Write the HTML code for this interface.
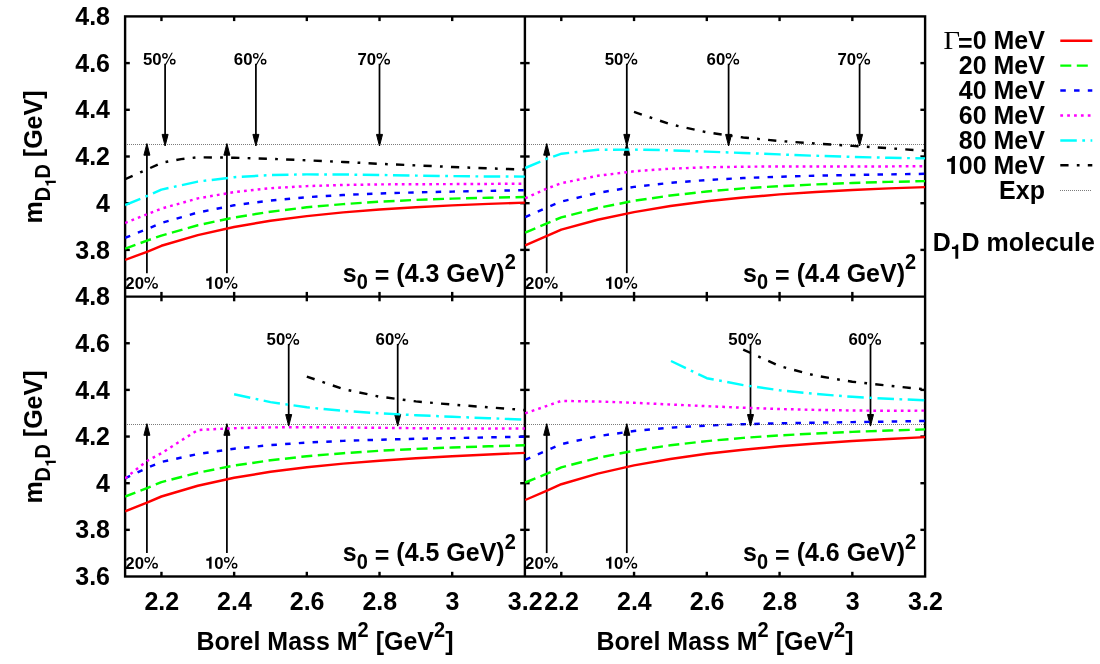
<!DOCTYPE html>
<html><head><meta charset="utf-8"><title>D1D molecule Borel mass plots</title>
<style>html,body{margin:0;padding:0;background:#fff;}svg{display:block;will-change:transform;}text{font-family:"Liberation Sans",sans-serif;font-weight:bold;fill:#000;}.sym{font-family:"Liberation Serif",serif;font-weight:normal;}</style></head><body>
<svg width="1100" height="664" viewBox="0 0 1100 664">
<rect x="0" y="0" width="1100" height="664" fill="#ffffff"/>
<line x1="146.9" y1="273.2" x2="146.9" y2="152.9" stroke="#000" stroke-width="1.75"/>
<polygon points="146.9,143.6 143.9,155.2 149.9,155.2" fill="#000" stroke="#000" stroke-width="1" stroke-linejoin="miter"/>
<line x1="226.9" y1="273.2" x2="226.9" y2="152.9" stroke="#000" stroke-width="1.75"/>
<polygon points="226.9,143.6 223.9,155.2 229.9,155.2" fill="#000" stroke="#000" stroke-width="1" stroke-linejoin="miter"/>
<text transform="translate(125.30 288.90) scale(1 1.03)" font-size="16.8" text-anchor="start">20</text>
<path transform="translate(143.99 288.90) scale(16.8 -16.8)" d="M0.024 0.534A0.17 0.17 0 1 0 0.364 0.534A0.17 0.17 0 1 0 0.024 0.534ZM0.106 0.534A0.088 0.088 0 1 1 0.282 0.534A0.088 0.088 0 1 1 0.106 0.534ZM0.490 0.184A0.17 0.17 0 1 0 0.830 0.184A0.17 0.17 0 1 0 0.490 0.184ZM0.572 0.184A0.088 0.088 0 1 1 0.748 0.184A0.088 0.088 0 1 1 0.572 0.184ZM0.5875 0.72L0.6625 0.72L0.2565 -0.015L0.1815 -0.015Z" fill="#000" fill-rule="evenodd"/>
<path transform="translate(204.80 288.90) scale(16.8 -16.8)" d="M0.259 0L0.404 0L0.404 0.716L0.308 0.716C0.290 0.640 0.230 0.602 0.090 0.600L0.090 0.484L0.259 0.484Z" fill="#000"/>
<text transform="translate(214.14 288.90) scale(1 1.03)" font-size="16.8" text-anchor="start">0</text>
<path transform="translate(223.49 288.90) scale(16.8 -16.8)" d="M0.024 0.534A0.17 0.17 0 1 0 0.364 0.534A0.17 0.17 0 1 0 0.024 0.534ZM0.106 0.534A0.088 0.088 0 1 1 0.282 0.534A0.088 0.088 0 1 1 0.106 0.534ZM0.490 0.184A0.17 0.17 0 1 0 0.830 0.184A0.17 0.17 0 1 0 0.490 0.184ZM0.572 0.184A0.088 0.088 0 1 1 0.748 0.184A0.088 0.088 0 1 1 0.572 0.184ZM0.5875 0.72L0.6625 0.72L0.2565 -0.015L0.1815 -0.015Z" fill="#000" fill-rule="evenodd"/>
<line x1="546.7" y1="273.2" x2="546.7" y2="152.9" stroke="#000" stroke-width="1.75"/>
<polygon points="546.7,143.6 543.7,155.2 549.7,155.2" fill="#000" stroke="#000" stroke-width="1" stroke-linejoin="miter"/>
<line x1="626.8" y1="273.2" x2="626.8" y2="152.9" stroke="#000" stroke-width="1.75"/>
<polygon points="626.8,143.6 623.8,155.2 629.8,155.2" fill="#000" stroke="#000" stroke-width="1" stroke-linejoin="miter"/>
<text transform="translate(525.10 288.90) scale(1 1.03)" font-size="16.8" text-anchor="start">20</text>
<path transform="translate(543.79 288.90) scale(16.8 -16.8)" d="M0.024 0.534A0.17 0.17 0 1 0 0.364 0.534A0.17 0.17 0 1 0 0.024 0.534ZM0.106 0.534A0.088 0.088 0 1 1 0.282 0.534A0.088 0.088 0 1 1 0.106 0.534ZM0.490 0.184A0.17 0.17 0 1 0 0.830 0.184A0.17 0.17 0 1 0 0.490 0.184ZM0.572 0.184A0.088 0.088 0 1 1 0.748 0.184A0.088 0.088 0 1 1 0.572 0.184ZM0.5875 0.72L0.6625 0.72L0.2565 -0.015L0.1815 -0.015Z" fill="#000" fill-rule="evenodd"/>
<path transform="translate(604.60 288.90) scale(16.8 -16.8)" d="M0.259 0L0.404 0L0.404 0.716L0.308 0.716C0.290 0.640 0.230 0.602 0.090 0.600L0.090 0.484L0.259 0.484Z" fill="#000"/>
<text transform="translate(613.94 288.90) scale(1 1.03)" font-size="16.8" text-anchor="start">0</text>
<path transform="translate(623.29 288.90) scale(16.8 -16.8)" d="M0.024 0.534A0.17 0.17 0 1 0 0.364 0.534A0.17 0.17 0 1 0 0.024 0.534ZM0.106 0.534A0.088 0.088 0 1 1 0.282 0.534A0.088 0.088 0 1 1 0.106 0.534ZM0.490 0.184A0.17 0.17 0 1 0 0.830 0.184A0.17 0.17 0 1 0 0.490 0.184ZM0.572 0.184A0.088 0.088 0 1 1 0.748 0.184A0.088 0.088 0 1 1 0.572 0.184ZM0.5875 0.72L0.6625 0.72L0.2565 -0.015L0.1815 -0.015Z" fill="#000" fill-rule="evenodd"/>
<line x1="146.9" y1="553.1" x2="146.9" y2="433.0" stroke="#000" stroke-width="1.75"/>
<polygon points="146.9,423.7 143.9,435.3 149.9,435.3" fill="#000" stroke="#000" stroke-width="1" stroke-linejoin="miter"/>
<line x1="226.9" y1="553.1" x2="226.9" y2="433.0" stroke="#000" stroke-width="1.75"/>
<polygon points="226.9,423.7 223.9,435.3 229.9,435.3" fill="#000" stroke="#000" stroke-width="1" stroke-linejoin="miter"/>
<text transform="translate(125.30 568.80) scale(1 1.03)" font-size="16.8" text-anchor="start">20</text>
<path transform="translate(143.99 568.80) scale(16.8 -16.8)" d="M0.024 0.534A0.17 0.17 0 1 0 0.364 0.534A0.17 0.17 0 1 0 0.024 0.534ZM0.106 0.534A0.088 0.088 0 1 1 0.282 0.534A0.088 0.088 0 1 1 0.106 0.534ZM0.490 0.184A0.17 0.17 0 1 0 0.830 0.184A0.17 0.17 0 1 0 0.490 0.184ZM0.572 0.184A0.088 0.088 0 1 1 0.748 0.184A0.088 0.088 0 1 1 0.572 0.184ZM0.5875 0.72L0.6625 0.72L0.2565 -0.015L0.1815 -0.015Z" fill="#000" fill-rule="evenodd"/>
<path transform="translate(204.80 568.80) scale(16.8 -16.8)" d="M0.259 0L0.404 0L0.404 0.716L0.308 0.716C0.290 0.640 0.230 0.602 0.090 0.600L0.090 0.484L0.259 0.484Z" fill="#000"/>
<text transform="translate(214.14 568.80) scale(1 1.03)" font-size="16.8" text-anchor="start">0</text>
<path transform="translate(223.49 568.80) scale(16.8 -16.8)" d="M0.024 0.534A0.17 0.17 0 1 0 0.364 0.534A0.17 0.17 0 1 0 0.024 0.534ZM0.106 0.534A0.088 0.088 0 1 1 0.282 0.534A0.088 0.088 0 1 1 0.106 0.534ZM0.490 0.184A0.17 0.17 0 1 0 0.830 0.184A0.17 0.17 0 1 0 0.490 0.184ZM0.572 0.184A0.088 0.088 0 1 1 0.748 0.184A0.088 0.088 0 1 1 0.572 0.184ZM0.5875 0.72L0.6625 0.72L0.2565 -0.015L0.1815 -0.015Z" fill="#000" fill-rule="evenodd"/>
<line x1="546.7" y1="553.1" x2="546.7" y2="433.0" stroke="#000" stroke-width="1.75"/>
<polygon points="546.7,423.7 543.7,435.3 549.7,435.3" fill="#000" stroke="#000" stroke-width="1" stroke-linejoin="miter"/>
<line x1="626.8" y1="553.1" x2="626.8" y2="433.0" stroke="#000" stroke-width="1.75"/>
<polygon points="626.8,423.7 623.8,435.3 629.8,435.3" fill="#000" stroke="#000" stroke-width="1" stroke-linejoin="miter"/>
<text transform="translate(525.10 568.80) scale(1 1.03)" font-size="16.8" text-anchor="start">20</text>
<path transform="translate(543.79 568.80) scale(16.8 -16.8)" d="M0.024 0.534A0.17 0.17 0 1 0 0.364 0.534A0.17 0.17 0 1 0 0.024 0.534ZM0.106 0.534A0.088 0.088 0 1 1 0.282 0.534A0.088 0.088 0 1 1 0.106 0.534ZM0.490 0.184A0.17 0.17 0 1 0 0.830 0.184A0.17 0.17 0 1 0 0.490 0.184ZM0.572 0.184A0.088 0.088 0 1 1 0.748 0.184A0.088 0.088 0 1 1 0.572 0.184ZM0.5875 0.72L0.6625 0.72L0.2565 -0.015L0.1815 -0.015Z" fill="#000" fill-rule="evenodd"/>
<path transform="translate(604.60 568.80) scale(16.8 -16.8)" d="M0.259 0L0.404 0L0.404 0.716L0.308 0.716C0.290 0.640 0.230 0.602 0.090 0.600L0.090 0.484L0.259 0.484Z" fill="#000"/>
<text transform="translate(613.94 568.80) scale(1 1.03)" font-size="16.8" text-anchor="start">0</text>
<path transform="translate(623.29 568.80) scale(16.8 -16.8)" d="M0.024 0.534A0.17 0.17 0 1 0 0.364 0.534A0.17 0.17 0 1 0 0.024 0.534ZM0.106 0.534A0.088 0.088 0 1 1 0.282 0.534A0.088 0.088 0 1 1 0.106 0.534ZM0.490 0.184A0.17 0.17 0 1 0 0.830 0.184A0.17 0.17 0 1 0 0.490 0.184ZM0.572 0.184A0.088 0.088 0 1 1 0.748 0.184A0.088 0.088 0 1 1 0.572 0.184ZM0.5875 0.72L0.6625 0.72L0.2565 -0.015L0.1815 -0.015Z" fill="#000" fill-rule="evenodd"/>
<line x1="165.1" y1="63.7" x2="165.1" y2="136.7" stroke="#000" stroke-width="1.75"/>
<polygon points="165.1,146.0 162.1,134.4 168.1,134.4" fill="#000" stroke="#000" stroke-width="1" stroke-linejoin="miter"/>
<text transform="translate(142.98 64.80) scale(1 1.03)" font-size="16.8" text-anchor="start">50</text>
<path transform="translate(161.67 64.80) scale(16.8 -16.8)" d="M0.024 0.534A0.17 0.17 0 1 0 0.364 0.534A0.17 0.17 0 1 0 0.024 0.534ZM0.106 0.534A0.088 0.088 0 1 1 0.282 0.534A0.088 0.088 0 1 1 0.106 0.534ZM0.490 0.184A0.17 0.17 0 1 0 0.830 0.184A0.17 0.17 0 1 0 0.490 0.184ZM0.572 0.184A0.088 0.088 0 1 1 0.748 0.184A0.088 0.088 0 1 1 0.572 0.184ZM0.5875 0.72L0.6625 0.72L0.2565 -0.015L0.1815 -0.015Z" fill="#000" fill-rule="evenodd"/>
<line x1="255.9" y1="63.7" x2="255.9" y2="136.7" stroke="#000" stroke-width="1.75"/>
<polygon points="255.9,146.0 252.9,134.4 258.9,134.4" fill="#000" stroke="#000" stroke-width="1" stroke-linejoin="miter"/>
<text transform="translate(233.84 64.80) scale(1 1.03)" font-size="16.8" text-anchor="start">60</text>
<path transform="translate(252.53 64.80) scale(16.8 -16.8)" d="M0.024 0.534A0.17 0.17 0 1 0 0.364 0.534A0.17 0.17 0 1 0 0.024 0.534ZM0.106 0.534A0.088 0.088 0 1 1 0.282 0.534A0.088 0.088 0 1 1 0.106 0.534ZM0.490 0.184A0.17 0.17 0 1 0 0.830 0.184A0.17 0.17 0 1 0 0.490 0.184ZM0.572 0.184A0.088 0.088 0 1 1 0.748 0.184A0.088 0.088 0 1 1 0.572 0.184ZM0.5875 0.72L0.6625 0.72L0.2565 -0.015L0.1815 -0.015Z" fill="#000" fill-rule="evenodd"/>
<line x1="379.5" y1="63.7" x2="379.5" y2="136.7" stroke="#000" stroke-width="1.75"/>
<polygon points="379.5,146.0 376.5,134.4 382.5,134.4" fill="#000" stroke="#000" stroke-width="1" stroke-linejoin="miter"/>
<text transform="translate(357.42 64.80) scale(1 1.03)" font-size="16.8" text-anchor="start">70</text>
<path transform="translate(376.11 64.80) scale(16.8 -16.8)" d="M0.024 0.534A0.17 0.17 0 1 0 0.364 0.534A0.17 0.17 0 1 0 0.024 0.534ZM0.106 0.534A0.088 0.088 0 1 1 0.282 0.534A0.088 0.088 0 1 1 0.106 0.534ZM0.490 0.184A0.17 0.17 0 1 0 0.830 0.184A0.17 0.17 0 1 0 0.490 0.184ZM0.572 0.184A0.088 0.088 0 1 1 0.748 0.184A0.088 0.088 0 1 1 0.572 0.184ZM0.5875 0.72L0.6625 0.72L0.2565 -0.015L0.1815 -0.015Z" fill="#000" fill-rule="evenodd"/>
<line x1="626.8" y1="63.7" x2="626.8" y2="136.7" stroke="#000" stroke-width="1.75"/>
<polygon points="626.8,146.0 623.8,134.4 629.8,134.4" fill="#000" stroke="#000" stroke-width="1" stroke-linejoin="miter"/>
<text transform="translate(604.67 64.80) scale(1 1.03)" font-size="16.8" text-anchor="start">50</text>
<path transform="translate(623.36 64.80) scale(16.8 -16.8)" d="M0.024 0.534A0.17 0.17 0 1 0 0.364 0.534A0.17 0.17 0 1 0 0.024 0.534ZM0.106 0.534A0.088 0.088 0 1 1 0.282 0.534A0.088 0.088 0 1 1 0.106 0.534ZM0.490 0.184A0.17 0.17 0 1 0 0.830 0.184A0.17 0.17 0 1 0 0.490 0.184ZM0.572 0.184A0.088 0.088 0 1 1 0.748 0.184A0.088 0.088 0 1 1 0.572 0.184ZM0.5875 0.72L0.6625 0.72L0.2565 -0.015L0.1815 -0.015Z" fill="#000" fill-rule="evenodd"/>
<line x1="728.6" y1="63.7" x2="728.6" y2="136.7" stroke="#000" stroke-width="1.75"/>
<polygon points="728.6,146.0 725.6,134.4 731.6,134.4" fill="#000" stroke="#000" stroke-width="1" stroke-linejoin="miter"/>
<text transform="translate(706.54 64.80) scale(1 1.03)" font-size="16.8" text-anchor="start">60</text>
<path transform="translate(725.23 64.80) scale(16.8 -16.8)" d="M0.024 0.534A0.17 0.17 0 1 0 0.364 0.534A0.17 0.17 0 1 0 0.024 0.534ZM0.106 0.534A0.088 0.088 0 1 1 0.282 0.534A0.088 0.088 0 1 1 0.106 0.534ZM0.490 0.184A0.17 0.17 0 1 0 0.830 0.184A0.17 0.17 0 1 0 0.490 0.184ZM0.572 0.184A0.088 0.088 0 1 1 0.748 0.184A0.088 0.088 0 1 1 0.572 0.184ZM0.5875 0.72L0.6625 0.72L0.2565 -0.015L0.1815 -0.015Z" fill="#000" fill-rule="evenodd"/>
<line x1="859.6" y1="63.7" x2="859.6" y2="136.7" stroke="#000" stroke-width="1.75"/>
<polygon points="859.6,146.0 856.6,134.4 862.6,134.4" fill="#000" stroke="#000" stroke-width="1" stroke-linejoin="miter"/>
<text transform="translate(837.51 64.80) scale(1 1.03)" font-size="16.8" text-anchor="start">70</text>
<path transform="translate(856.20 64.80) scale(16.8 -16.8)" d="M0.024 0.534A0.17 0.17 0 1 0 0.364 0.534A0.17 0.17 0 1 0 0.024 0.534ZM0.106 0.534A0.088 0.088 0 1 1 0.282 0.534A0.088 0.088 0 1 1 0.106 0.534ZM0.490 0.184A0.17 0.17 0 1 0 0.830 0.184A0.17 0.17 0 1 0 0.490 0.184ZM0.572 0.184A0.088 0.088 0 1 1 0.748 0.184A0.088 0.088 0 1 1 0.572 0.184ZM0.5875 0.72L0.6625 0.72L0.2565 -0.015L0.1815 -0.015Z" fill="#000" fill-rule="evenodd"/>
<line x1="288.7" y1="343.9" x2="288.7" y2="416.8" stroke="#000" stroke-width="1.75"/>
<polygon points="288.7,426.1 285.7,414.5 291.7,414.5" fill="#000" stroke="#000" stroke-width="1" stroke-linejoin="miter"/>
<text transform="translate(266.55 345.00) scale(1 1.03)" font-size="16.8" text-anchor="start">50</text>
<path transform="translate(285.24 345.00) scale(16.8 -16.8)" d="M0.024 0.534A0.17 0.17 0 1 0 0.364 0.534A0.17 0.17 0 1 0 0.024 0.534ZM0.106 0.534A0.088 0.088 0 1 1 0.282 0.534A0.088 0.088 0 1 1 0.106 0.534ZM0.490 0.184A0.17 0.17 0 1 0 0.830 0.184A0.17 0.17 0 1 0 0.490 0.184ZM0.572 0.184A0.088 0.088 0 1 1 0.748 0.184A0.088 0.088 0 1 1 0.572 0.184ZM0.5875 0.72L0.6625 0.72L0.2565 -0.015L0.1815 -0.015Z" fill="#000" fill-rule="evenodd"/>
<line x1="397.7" y1="343.9" x2="397.7" y2="416.8" stroke="#000" stroke-width="1.75"/>
<polygon points="397.7,426.1 394.7,414.5 400.7,414.5" fill="#000" stroke="#000" stroke-width="1" stroke-linejoin="miter"/>
<text transform="translate(375.59 345.00) scale(1 1.03)" font-size="16.8" text-anchor="start">60</text>
<path transform="translate(394.28 345.00) scale(16.8 -16.8)" d="M0.024 0.534A0.17 0.17 0 1 0 0.364 0.534A0.17 0.17 0 1 0 0.024 0.534ZM0.106 0.534A0.088 0.088 0 1 1 0.282 0.534A0.088 0.088 0 1 1 0.106 0.534ZM0.490 0.184A0.17 0.17 0 1 0 0.830 0.184A0.17 0.17 0 1 0 0.490 0.184ZM0.572 0.184A0.088 0.088 0 1 1 0.748 0.184A0.088 0.088 0 1 1 0.572 0.184ZM0.5875 0.72L0.6625 0.72L0.2565 -0.015L0.1815 -0.015Z" fill="#000" fill-rule="evenodd"/>
<line x1="750.5" y1="343.9" x2="750.5" y2="416.8" stroke="#000" stroke-width="1.75"/>
<polygon points="750.5,426.1 747.5,414.5 753.5,414.5" fill="#000" stroke="#000" stroke-width="1" stroke-linejoin="miter"/>
<text transform="translate(728.37 345.00) scale(1 1.03)" font-size="16.8" text-anchor="start">50</text>
<path transform="translate(747.06 345.00) scale(16.8 -16.8)" d="M0.024 0.534A0.17 0.17 0 1 0 0.364 0.534A0.17 0.17 0 1 0 0.024 0.534ZM0.106 0.534A0.088 0.088 0 1 1 0.282 0.534A0.088 0.088 0 1 1 0.106 0.534ZM0.490 0.184A0.17 0.17 0 1 0 0.830 0.184A0.17 0.17 0 1 0 0.490 0.184ZM0.572 0.184A0.088 0.088 0 1 1 0.748 0.184A0.088 0.088 0 1 1 0.572 0.184ZM0.5875 0.72L0.6625 0.72L0.2565 -0.015L0.1815 -0.015Z" fill="#000" fill-rule="evenodd"/>
<line x1="870.5" y1="343.9" x2="870.5" y2="416.8" stroke="#000" stroke-width="1.75"/>
<polygon points="870.5,426.1 867.5,414.5 873.5,414.5" fill="#000" stroke="#000" stroke-width="1" stroke-linejoin="miter"/>
<text transform="translate(848.43 345.00) scale(1 1.03)" font-size="16.8" text-anchor="start">60</text>
<path transform="translate(867.12 345.00) scale(16.8 -16.8)" d="M0.024 0.534A0.17 0.17 0 1 0 0.364 0.534A0.17 0.17 0 1 0 0.024 0.534ZM0.106 0.534A0.088 0.088 0 1 1 0.282 0.534A0.088 0.088 0 1 1 0.106 0.534ZM0.490 0.184A0.17 0.17 0 1 0 0.830 0.184A0.17 0.17 0 1 0 0.490 0.184ZM0.572 0.184A0.088 0.088 0 1 1 0.748 0.184A0.088 0.088 0 1 1 0.572 0.184ZM0.5875 0.72L0.6625 0.72L0.2565 -0.015L0.1815 -0.015Z" fill="#000" fill-rule="evenodd"/>
<g stroke="#000" stroke-width="2.4" fill="none" stroke-linecap="butt">
<rect x="125.1" y="16.4" width="800.00" height="560.10"/>
<line x1="524.9" y1="16.4" x2="524.9" y2="576.5"/>
<line x1="125.1" y1="296.6" x2="925.1" y2="296.6"/>
<line x1="161.45" y1="16.4" x2="161.45" y2="21.099999999999998"/>
<line x1="161.45" y1="291.90000000000003" x2="161.45" y2="301.3"/>
<line x1="161.45" y1="571.8" x2="161.45" y2="576.5"/>
<line x1="234.14" y1="16.4" x2="234.14" y2="21.099999999999998"/>
<line x1="234.14" y1="291.90000000000003" x2="234.14" y2="301.3"/>
<line x1="234.14" y1="571.8" x2="234.14" y2="576.5"/>
<line x1="306.83" y1="16.4" x2="306.83" y2="21.099999999999998"/>
<line x1="306.83" y1="291.90000000000003" x2="306.83" y2="301.3"/>
<line x1="306.83" y1="571.8" x2="306.83" y2="576.5"/>
<line x1="379.52" y1="16.4" x2="379.52" y2="21.099999999999998"/>
<line x1="379.52" y1="291.90000000000003" x2="379.52" y2="301.3"/>
<line x1="379.52" y1="571.8" x2="379.52" y2="576.5"/>
<line x1="452.21" y1="16.4" x2="452.21" y2="21.099999999999998"/>
<line x1="452.21" y1="291.90000000000003" x2="452.21" y2="301.3"/>
<line x1="452.21" y1="571.8" x2="452.21" y2="576.5"/>
<line x1="561.28" y1="16.4" x2="561.28" y2="21.099999999999998"/>
<line x1="561.28" y1="291.90000000000003" x2="561.28" y2="301.3"/>
<line x1="561.28" y1="571.8" x2="561.28" y2="576.5"/>
<line x1="634.05" y1="16.4" x2="634.05" y2="21.099999999999998"/>
<line x1="634.05" y1="291.90000000000003" x2="634.05" y2="301.3"/>
<line x1="634.05" y1="571.8" x2="634.05" y2="576.5"/>
<line x1="706.81" y1="16.4" x2="706.81" y2="21.099999999999998"/>
<line x1="706.81" y1="291.90000000000003" x2="706.81" y2="301.3"/>
<line x1="706.81" y1="571.8" x2="706.81" y2="576.5"/>
<line x1="779.57" y1="16.4" x2="779.57" y2="21.099999999999998"/>
<line x1="779.57" y1="291.90000000000003" x2="779.57" y2="301.3"/>
<line x1="779.57" y1="571.8" x2="779.57" y2="576.5"/>
<line x1="852.34" y1="16.4" x2="852.34" y2="21.099999999999998"/>
<line x1="852.34" y1="291.90000000000003" x2="852.34" y2="301.3"/>
<line x1="852.34" y1="571.8" x2="852.34" y2="576.5"/>
<line x1="125.1" y1="63.10" x2="129.79999999999998" y2="63.10"/>
<line x1="520.1999999999999" y1="63.10" x2="529.6" y2="63.10"/>
<line x1="920.4" y1="63.10" x2="925.1" y2="63.10"/>
<line x1="125.1" y1="109.80" x2="129.79999999999998" y2="109.80"/>
<line x1="520.1999999999999" y1="109.80" x2="529.6" y2="109.80"/>
<line x1="920.4" y1="109.80" x2="925.1" y2="109.80"/>
<line x1="125.1" y1="156.50" x2="129.79999999999998" y2="156.50"/>
<line x1="520.1999999999999" y1="156.50" x2="529.6" y2="156.50"/>
<line x1="920.4" y1="156.50" x2="925.1" y2="156.50"/>
<line x1="125.1" y1="203.20" x2="129.79999999999998" y2="203.20"/>
<line x1="520.1999999999999" y1="203.20" x2="529.6" y2="203.20"/>
<line x1="920.4" y1="203.20" x2="925.1" y2="203.20"/>
<line x1="125.1" y1="249.90" x2="129.79999999999998" y2="249.90"/>
<line x1="520.1999999999999" y1="249.90" x2="529.6" y2="249.90"/>
<line x1="920.4" y1="249.90" x2="925.1" y2="249.90"/>
<line x1="125.1" y1="343.25" x2="129.79999999999998" y2="343.25"/>
<line x1="520.1999999999999" y1="343.25" x2="529.6" y2="343.25"/>
<line x1="920.4" y1="343.25" x2="925.1" y2="343.25"/>
<line x1="125.1" y1="389.90" x2="129.79999999999998" y2="389.90"/>
<line x1="520.1999999999999" y1="389.90" x2="529.6" y2="389.90"/>
<line x1="920.4" y1="389.90" x2="925.1" y2="389.90"/>
<line x1="125.1" y1="436.55" x2="129.79999999999998" y2="436.55"/>
<line x1="520.1999999999999" y1="436.55" x2="529.6" y2="436.55"/>
<line x1="920.4" y1="436.55" x2="925.1" y2="436.55"/>
<line x1="125.1" y1="483.20" x2="129.79999999999998" y2="483.20"/>
<line x1="520.1999999999999" y1="483.20" x2="529.6" y2="483.20"/>
<line x1="920.4" y1="483.20" x2="925.1" y2="483.20"/>
<line x1="125.1" y1="529.85" x2="129.79999999999998" y2="529.85"/>
<line x1="520.1999999999999" y1="529.85" x2="529.6" y2="529.85"/>
<line x1="920.4" y1="529.85" x2="925.1" y2="529.85"/>
</g>
<text transform="translate(110.00 25.00) scale(1 1.065)" font-size="25.0" text-anchor="end">4.8</text>
<text transform="translate(110.00 71.70) scale(1 1.065)" font-size="25.0" text-anchor="end">4.6</text>
<text transform="translate(110.00 118.40) scale(1 1.065)" font-size="25.0" text-anchor="end">4.4</text>
<text transform="translate(110.00 165.10) scale(1 1.065)" font-size="25.0" text-anchor="end">4.2</text>
<text transform="translate(110.00 211.80) scale(1 1.065)" font-size="25.0" text-anchor="end">4</text>
<text transform="translate(110.00 258.50) scale(1 1.065)" font-size="25.0" text-anchor="end">3.8</text>
<text transform="translate(110.00 305.20) scale(1 1.065)" font-size="25.0" text-anchor="end">4.8</text>
<text transform="translate(110.00 351.85) scale(1 1.065)" font-size="25.0" text-anchor="end">4.6</text>
<text transform="translate(110.00 398.50) scale(1 1.065)" font-size="25.0" text-anchor="end">4.4</text>
<text transform="translate(110.00 445.15) scale(1 1.065)" font-size="25.0" text-anchor="end">4.2</text>
<text transform="translate(110.00 491.80) scale(1 1.065)" font-size="25.0" text-anchor="end">4</text>
<text transform="translate(110.00 538.45) scale(1 1.065)" font-size="25.0" text-anchor="end">3.8</text>
<text transform="translate(110.00 585.10) scale(1 1.065)" font-size="25.0" text-anchor="end">3.6</text>
<text transform="translate(161.75 609.90) scale(1 1.065)" font-size="25.0" text-anchor="middle">2.2</text>
<text transform="translate(234.44 609.90) scale(1 1.065)" font-size="25.0" text-anchor="middle">2.4</text>
<text transform="translate(307.13 609.90) scale(1 1.065)" font-size="25.0" text-anchor="middle">2.6</text>
<text transform="translate(379.82 609.90) scale(1 1.065)" font-size="25.0" text-anchor="middle">2.8</text>
<text transform="translate(452.51 609.90) scale(1 1.065)" font-size="25.0" text-anchor="middle">3</text>
<text transform="translate(525.20 609.90) scale(1 1.065)" font-size="25.0" text-anchor="middle">3.2</text>
<text transform="translate(561.58 609.90) scale(1 1.065)" font-size="25.0" text-anchor="middle">2.2</text>
<text transform="translate(634.35 609.90) scale(1 1.065)" font-size="25.0" text-anchor="middle">2.4</text>
<text transform="translate(707.11 609.90) scale(1 1.065)" font-size="25.0" text-anchor="middle">2.6</text>
<text transform="translate(779.87 609.90) scale(1 1.065)" font-size="25.0" text-anchor="middle">2.8</text>
<text transform="translate(852.64 609.90) scale(1 1.065)" font-size="25.0" text-anchor="middle">3</text>
<text transform="translate(925.40 609.90) scale(1 1.065)" font-size="25.0" text-anchor="middle">3.2</text>
<text transform="translate(325.00 649.70) scale(1 1.065)" font-size="25.0" text-anchor="middle">Borel Mass M<tspan font-size="20.00" dy="-11.74">2</tspan><tspan dy="11.74"> [GeV</tspan><tspan font-size="20.00" dy="-11.74">2</tspan><tspan dy="11.74">]</tspan></text>
<text transform="translate(725.00 649.70) scale(1 1.065)" font-size="25.0" text-anchor="middle">Borel Mass M<tspan font-size="20.00" dy="-11.74">2</tspan><tspan dy="11.74"> [GeV</tspan><tspan font-size="20.00" dy="-11.74">2</tspan><tspan dy="11.74">]</tspan></text>
<g transform="translate(42.3 157.00) rotate(-90)">
<text transform="translate(-66.55 0.00) scale(1 1.065)" font-size="25.0" text-anchor="start">m<tspan font-size="20.00" dy="7.04">D</tspan></text>
<path transform="translate(-29.87 13.50) scale(15.0 -15.0)" d="M0.259 0L0.404 0L0.404 0.716L0.308 0.716C0.290 0.640 0.230 0.602 0.090 0.600L0.090 0.484L0.259 0.484Z" fill="#000"/>
<text transform="translate(-21.53 0.00) scale(1 1.065)" font-size="25.0" text-anchor="start"><tspan font-size="20.00" dy="7.04">D</tspan><tspan dy="-7.04"> [GeV]</tspan></text>
</g>
<g transform="translate(42.3 437.05) rotate(-90)">
<text transform="translate(-66.55 0.00) scale(1 1.065)" font-size="25.0" text-anchor="start">m<tspan font-size="20.00" dy="7.04">D</tspan></text>
<path transform="translate(-29.87 13.50) scale(15.0 -15.0)" d="M0.259 0L0.404 0L0.404 0.716L0.308 0.716C0.290 0.640 0.230 0.602 0.090 0.600L0.090 0.484L0.259 0.484Z" fill="#000"/>
<text transform="translate(-21.53 0.00) scale(1 1.065)" font-size="25.0" text-anchor="start"><tspan font-size="20.00" dy="7.04">D</tspan><tspan dy="-7.04"> [GeV]</tspan></text>
</g>
<text transform="translate(515.80 281.50) scale(1 1.065)" font-size="25.0" text-anchor="end">s<tspan font-size="20.00" dy="7.04">0</tspan><tspan dy="-7.04"> </tspan><tspan dy="2.63">=</tspan><tspan dy="-2.63"> (4.3 GeV)</tspan><tspan font-size="20.00" dy="-11.74">2</tspan></text>
<text transform="translate(916.10 281.50) scale(1 1.065)" font-size="25.0" text-anchor="end">s<tspan font-size="20.00" dy="7.04">0</tspan><tspan dy="-7.04"> </tspan><tspan dy="2.63">=</tspan><tspan dy="-2.63"> (4.4 GeV)</tspan><tspan font-size="20.00" dy="-11.74">2</tspan></text>
<text transform="translate(515.80 561.40) scale(1 1.065)" font-size="25.0" text-anchor="end">s<tspan font-size="20.00" dy="7.04">0</tspan><tspan dy="-7.04"> </tspan><tspan dy="2.63">=</tspan><tspan dy="-2.63"> (4.5 GeV)</tspan><tspan font-size="20.00" dy="-11.74">2</tspan></text>
<text transform="translate(916.10 561.40) scale(1 1.065)" font-size="25.0" text-anchor="end">s<tspan font-size="20.00" dy="7.04">0</tspan><tspan dy="-7.04"> </tspan><tspan dy="2.63">=</tspan><tspan dy="-2.63"> (4.6 GeV)</tspan><tspan font-size="20.00" dy="-11.74">2</tspan></text>
<text transform="translate(1044.90 49.30) scale(1 1.065)" font-size="25.0" text-anchor="end"><tspan dy="2.63">=</tspan><tspan dy="-2.63">0 MeV</tspan></text>
<text class="sym" transform="translate(960.0 49.30) scale(1 0.905)" font-size="28.7" text-anchor="end">&#915;</text>
<line x1="1060.3" y1="40.7" x2="1092.3" y2="40.7" stroke="#ff0000" stroke-width="2.45"/>
<text transform="translate(1044.90 74.20) scale(1 1.065)" font-size="25.0" text-anchor="end">20 MeV</text>
<line x1="1060.3" y1="65.6" x2="1092.3" y2="65.6" stroke="#00ff00" stroke-width="2.45" stroke-dasharray="11.00 5.50"/>
<text transform="translate(1044.90 99.10) scale(1 1.065)" font-size="25.0" text-anchor="end">40 MeV</text>
<line x1="1060.3" y1="90.5" x2="1092.3" y2="90.5" stroke="#0000ff" stroke-width="2.45" stroke-dasharray="5.50 8.25"/>
<text transform="translate(1044.90 124.00) scale(1 1.065)" font-size="25.0" text-anchor="end">60 MeV</text>
<line x1="1060.3" y1="115.4" x2="1092.3" y2="115.4" stroke="#ff00ff" stroke-width="2.45" stroke-dasharray="2.75 4.12"/>
<text transform="translate(1044.90 149.00) scale(1 1.065)" font-size="25.0" text-anchor="end">80 MeV</text>
<line x1="1060.3" y1="140.4" x2="1092.3" y2="140.4" stroke="#00ffff" stroke-width="2.45" stroke-dasharray="16.50 5.50 2.75 5.50"/>
<path transform="translate(944.84 173.90) scale(25.0 -25.0)" d="M0.259 0L0.404 0L0.404 0.716L0.308 0.716C0.290 0.640 0.230 0.602 0.090 0.600L0.090 0.484L0.259 0.484Z" fill="#000"/>
<text transform="translate(1044.90 173.90) scale(1 1.065)" font-size="25.0" text-anchor="end">00 MeV</text>
<line x1="1060.3" y1="165.3" x2="1092.3" y2="165.3" stroke="#000000" stroke-width="2.45" stroke-dasharray="8.25 8.25 2.75 8.25"/>
<text transform="translate(1044.90 198.80) scale(1 1.065)" font-size="25.0" text-anchor="end">Exp</text>
<line x1="1060" y1="190.5" x2="1092" y2="190.5" stroke="#000" stroke-opacity="0.55" stroke-width="0.95" stroke-dasharray="1 1"/>
<text transform="translate(932.70 251.20) scale(1 1.065)" font-size="25.0" text-anchor="start">D</text>
<path transform="translate(950.15 258.70) scale(20.0 -20.0)" d="M0.259 0L0.404 0L0.404 0.716L0.308 0.716C0.290 0.640 0.230 0.602 0.090 0.600L0.090 0.484L0.259 0.484Z" fill="#000"/>
<text transform="translate(961.58 251.20) scale(1 1.065)" font-size="25.0" text-anchor="start">D molecule</text>
<clipPath id="cp0"><rect x="125.10" y="16.40" width="399.80" height="280.20"/></clipPath>
<clipPath id="cp1"><rect x="524.90" y="16.40" width="400.20" height="280.20"/></clipPath>
<clipPath id="cp2"><rect x="125.10" y="296.60" width="399.80" height="279.90"/></clipPath>
<clipPath id="cp3"><rect x="524.90" y="296.60" width="400.20" height="279.90"/></clipPath>
<g clip-path="url(#cp0)" fill="none" stroke-width="2.45" stroke-linejoin="round">
<polyline points="125.1,259.9 147.0,251.8 161.4,245.8 197.8,235.1 234.1,227.0 270.5,220.8 306.8,216.1 343.2,212.4 379.5,209.5 415.9,207.3 452.2,205.4 488.6,203.9 524.9,202.6" stroke="#ff0000"/>
<polyline points="125.1,248.7 147.0,240.6 161.4,235.6 197.8,225.2 234.1,217.5 270.5,211.7 306.8,207.3 343.2,204.1 379.5,201.7 415.9,199.9 452.2,198.6 488.6,197.7 524.9,197.0" stroke="#00ff00" stroke-dasharray="11.00 5.50"/>
<polyline points="125.1,237.8 147.0,229.1 161.4,223.0 197.8,212.5 234.1,205.3 270.5,200.5 306.8,197.2 343.2,195.0 379.5,193.5 415.9,192.4 452.2,191.6 488.6,190.9 524.9,190.2" stroke="#0000ff" stroke-dasharray="5.50 8.25"/>
<polyline points="125.1,223.0 147.0,214.3 161.4,208.6 197.8,198.4 234.1,192.1 270.5,188.2 306.8,186.1 343.2,185.0 379.5,184.4 415.9,184.2 452.2,184.1 488.6,183.9 524.9,183.7" stroke="#ff00ff" stroke-dasharray="2.75 4.12"/>
<polyline points="125.1,205.1 147.0,196.0 161.4,189.6 197.8,181.6 234.1,177.2 270.5,175.1 306.8,174.4 343.2,174.5 379.5,175.0 415.9,175.6 452.2,176.1 488.6,176.5 524.9,176.6" stroke="#00ffff" stroke-dasharray="16.50 5.50 2.75 5.50"/>
<polyline points="125.1,179.2 141.0,172.1 162.1,162.7 181.1,159.1 197.8,157.3 234.1,157.7 270.5,158.8 306.8,160.3 343.2,162.0 379.5,163.8 415.9,165.4 452.2,167.0 488.6,168.4 524.9,169.5" stroke="#000000" stroke-dasharray="8.25 8.25 2.75 8.25"/>
<line x1="125" y1="144.5" x2="525" y2="144.5" stroke="#000" stroke-opacity="0.55" stroke-width="0.95" stroke-dasharray="1 1"/>
</g>
<g clip-path="url(#cp1)" fill="none" stroke-width="2.45" stroke-linejoin="round">
<polyline points="525.2,245.3 547.0,235.9 561.3,229.6 597.7,219.8 634.0,212.1 670.4,206.0 706.8,201.2 743.2,197.5 779.6,194.4 816.0,192.0 852.3,190.0 888.7,188.4 925.1,187.1" stroke="#ff0000"/>
<polyline points="525.2,232.6 547.0,223.3 561.3,217.4 597.7,208.0 634.0,200.8 670.4,195.5 706.8,191.5 743.2,188.4 779.6,186.1 816.0,184.4 852.3,183.0 888.7,181.9 925.1,181.1" stroke="#00ff00" stroke-dasharray="11.00 5.50"/>
<polyline points="525.2,217.2 547.0,207.4 561.3,201.6 597.7,192.9 634.0,186.9 670.4,182.8 706.8,180.0 743.2,178.0 779.6,176.7 816.0,175.7 852.3,175.0 888.7,174.4 925.1,173.8" stroke="#0000ff" stroke-dasharray="5.50 8.25"/>
<polyline points="525.2,198.3 547.0,188.5 561.3,183.2 597.7,175.8 634.0,171.3 670.4,168.7 706.8,167.3 743.2,166.7 779.6,166.5 816.0,166.4 852.3,166.5 888.7,166.4 925.1,166.2" stroke="#ff00ff" stroke-dasharray="2.75 4.12"/>
<polyline points="525.2,168.0 547.0,158.7 561.6,153.7 597.7,149.8 634.0,149.6 670.4,150.3 706.8,151.6 743.2,153.0 779.6,154.4 816.0,155.8 852.3,156.9 888.7,157.8 925.1,158.4" stroke="#00ffff" stroke-dasharray="16.50 5.50 2.75 5.50"/>
<polyline points="634.0,111.9 670.4,124.3 706.8,132.3 743.2,137.5 779.6,141.0 816.0,143.6 852.3,145.9 888.7,148.2 925.1,150.8" stroke="#000000" stroke-dasharray="8.25 8.25 2.75 8.25"/>
<line x1="525" y1="144.5" x2="925" y2="144.5" stroke="#000" stroke-opacity="0.55" stroke-width="0.95" stroke-dasharray="1 1"/>
</g>
<g clip-path="url(#cp2)" fill="none" stroke-width="2.45" stroke-linejoin="round">
<polyline points="125.1,511.3 147.0,502.6 161.4,496.5 197.8,485.8 234.1,477.8 270.5,471.8 306.8,467.2 343.2,463.6 379.5,460.7 415.9,458.3 452.2,456.3 488.6,454.5 524.9,452.9" stroke="#ff0000"/>
<polyline points="125.1,496.6 147.0,488.1 161.4,482.1 197.8,472.7 234.1,465.6 270.5,460.3 306.8,456.2 343.2,453.2 379.5,450.8 415.9,448.9 452.2,447.5 488.6,446.3 524.9,445.3" stroke="#00ff00" stroke-dasharray="11.00 5.50"/>
<polyline points="125.1,478.3 147.0,468.0 161.4,461.9 197.8,454.0 234.1,448.7 270.5,445.1 306.8,442.6 343.2,440.9 379.5,439.7 415.9,438.8 452.2,438.1 488.6,437.4 524.9,436.7" stroke="#0000ff" stroke-dasharray="5.50 8.25"/>
<polyline points="125.1,478.3 147.0,461.0 161.3,453.3 197.8,430.0 234.1,428.2 270.5,427.4 306.8,427.2 343.2,427.5 379.5,427.8 415.9,428.2 452.2,428.4 488.6,428.6 524.9,428.5" stroke="#ff00ff" stroke-dasharray="2.75 4.12"/>
<polyline points="234.1,394.3 270.5,402.1 306.8,407.3 343.2,410.9 379.5,413.3 415.9,415.2 452.2,416.8 488.6,418.2 524.9,419.7" stroke="#00ffff" stroke-dasharray="16.50 5.50 2.75 5.50"/>
<polyline points="306.8,376.6 343.2,389.1 379.5,396.7 415.9,401.4 452.2,404.6 488.6,407.3 524.9,410.1" stroke="#000000" stroke-dasharray="8.25 8.25 2.75 8.25"/>
<line x1="125" y1="424.5" x2="525" y2="424.5" stroke="#000" stroke-opacity="0.55" stroke-width="0.95" stroke-dasharray="1 1"/>
</g>
<g clip-path="url(#cp3)" fill="none" stroke-width="2.45" stroke-linejoin="round">
<polyline points="525.2,500.0 547.0,490.6 561.3,484.2 597.7,473.6 634.0,465.4 670.4,459.0 706.8,453.8 743.2,449.7 779.6,446.3 816.0,443.5 852.3,441.0 888.7,439.0 925.1,437.1" stroke="#ff0000"/>
<polyline points="525.2,482.5 547.0,473.7 561.3,467.4 597.7,457.9 634.0,450.7 670.4,445.3 706.8,441.1 743.2,437.9 779.6,435.4 816.0,433.5 852.3,431.9 888.7,430.5 925.1,429.4" stroke="#00ff00" stroke-dasharray="11.00 5.50"/>
<polyline points="525.2,459.8 547.0,450.5 561.3,444.1 597.7,436.2 634.0,431.0 670.4,427.7 706.8,425.6 743.2,424.2 779.6,423.3 816.0,422.7 852.3,422.1 888.7,421.6 925.1,421.0" stroke="#0000ff" stroke-dasharray="5.50 8.25"/>
<polyline points="525.2,413.3 547.0,405.9 561.3,400.9 597.7,401.5 634.0,402.8 670.4,404.5 706.8,406.2 743.2,407.7 779.6,409.0 816.0,409.9 852.3,410.5 888.7,410.8 925.1,410.6" stroke="#ff00ff" stroke-dasharray="2.75 4.12"/>
<polyline points="671.0,361.0 706.8,378.2 743.2,385.1 779.6,390.3 816.0,394.0 852.3,396.8 888.7,398.8 925.1,400.3" stroke="#00ffff" stroke-dasharray="16.50 5.50 2.75 5.50"/>
<polyline points="743.2,349.6 779.6,366.1 816.0,375.8 852.3,381.7 888.7,385.7 925.1,389.4" stroke="#000000" stroke-dasharray="8.25 8.25 2.75 8.25"/>
<line x1="525" y1="424.5" x2="925" y2="424.5" stroke="#000" stroke-opacity="0.55" stroke-width="0.95" stroke-dasharray="1 1"/>
</g>
</svg></body></html>
